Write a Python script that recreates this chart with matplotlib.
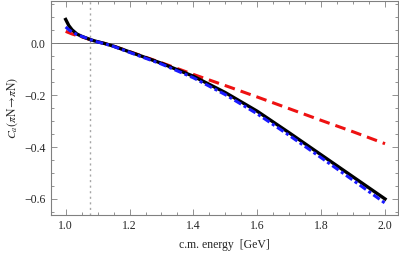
import matplotlib
import numpy as np

matplotlib.use("Agg")
import matplotlib.pyplot as plt
from matplotlib.ticker import MultipleLocator

# c.m. energy [GeV]
energy = [1.0, 1.01, 1.02, 1.035, 1.05, 1.08, 1.1, 1.12, 1.15, 1.2, 1.3, 1.4,
          1.5, 1.6, 1.7, 1.8, 1.9, 2.0]
ca_black = [0.092, 0.068, 0.052, 0.036, 0.027, 0.013, 0.006, 0.0, -0.011,
            -0.033, -0.077, -0.127, -0.19, -0.262, -0.345, -0.43, -0.515, -0.6]
ca_red = [0.046, 0.041, 0.036, 0.030, 0.025, 0.013, 0.006, 0.0, -0.011,
          -0.032, -0.075, -0.12, -0.163, -0.207, -0.252, -0.297, -0.341, -0.387]
ca_blue = [0.063, 0.052, 0.044, 0.034, 0.027, 0.013, 0.005, -0.001, -0.012,
           -0.035, -0.08, -0.133, -0.198, -0.272, -0.355, -0.441, -0.528, -0.616]
threshold = 1.077

plt.rcParams["font.family"] = ["Liberation Serif", "DejaVu Serif"]
plt.rcParams["mathtext.fontset"] = "stix"

fig = plt.figure(figsize=(3.99, 2.56), dpi=100)
ax = fig.add_axes([0.127, 0.16, 0.87, 0.838])

ax.axhline(0.0, color="0.45", linewidth=0.7, zorder=1)
ax.axvline(threshold, color="0.65", linewidth=1.0, linestyle=(0, (1.5, 2.5)), zorder=1)

ax.plot(energy, ca_black, color="black", linewidth=2.4, zorder=3)
ax.plot(energy, ca_red, color="#ee1111", linewidth=2.2, linestyle=(0, (3.5, 2.0)), zorder=2)
ax.plot(energy, ca_blue, color="#1a1aff", linewidth=2.2, linestyle=(0, (2.5, 1.0, 1.0, 1.0)), zorder=4)

ax.set_xlim(0.953, 2.04)
ax.set_ylim(-0.662, 0.165)
ax.xaxis.set_major_locator(MultipleLocator(0.2))
ax.xaxis.set_minor_locator(MultipleLocator(0.05))
ax.yaxis.set_major_locator(MultipleLocator(0.2))
ax.yaxis.set_minor_locator(MultipleLocator(0.05))
ax.xaxis.set_major_formatter(matplotlib.ticker.FormatStrFormatter("%.1f"))
ax.yaxis.set_major_formatter(matplotlib.ticker.FuncFormatter(
    lambda v, p: f"{v:.1f}".replace("-", "\u2212")))

ax.tick_params(which="both", direction="in", top=True, right=True,
               color="0.5", labelsize=8.5, labelcolor="0.15")
ax.tick_params(which="major", length=4, width=0.6)
ax.tick_params(which="minor", length=2, width=0.6)
for s in ax.spines.values():
    s.set_color("0.5")
    s.set_linewidth(0.8)

ax.set_xlabel("c.m. energy  [GeV]", fontsize=8.5, color="0.15", labelpad=5)
ax.set_ylabel(r"$C_a(\pi\mathrm{N}\!\rightarrow\!\pi\mathrm{N})$", fontsize=8.5,
              color="0.15", labelpad=3)

fig.savefig("out.png", dpi=100)
